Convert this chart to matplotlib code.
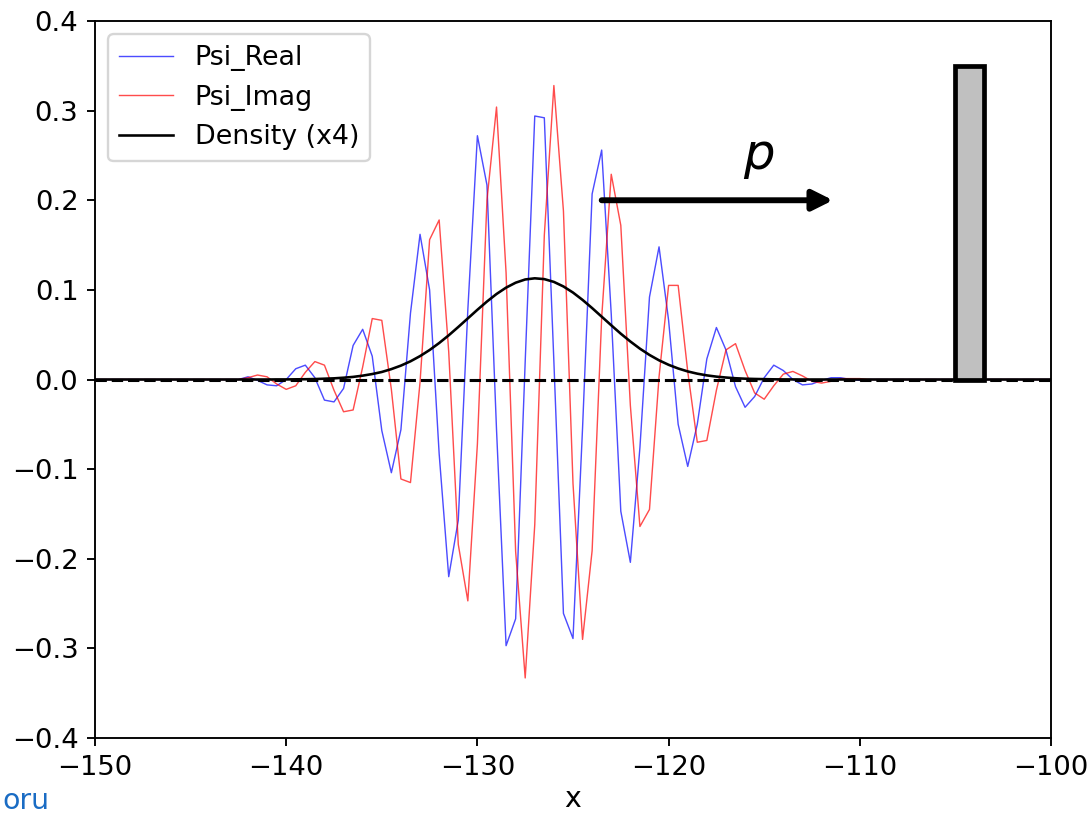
import numpy as np
import matplotlib.pyplot as plt

# grid of the simulation, data given from x = -142 to -110 (outside is zero)
x_lo, x_hi, dx = -150.0, -100.0, 0.5
data_start = -142.0

psi_real = [0.003, -0.001, -0.006, -0.007, 0.000, 0.012, 0.016, 0.002, -0.023, -0.025,
            -0.010, 0.038, 0.056, 0.026, -0.057, -0.104, -0.056, 0.074, 0.162, 0.100,
            -0.083, -0.220, -0.157, 0.078, 0.272, 0.217, -0.056, -0.297, -0.267, 0.020,
            0.294, 0.292, 0.020, -0.261, -0.289, -0.054, 0.207, 0.256, 0.073, -0.147,
            -0.204, -0.076, 0.092, 0.148, 0.066, -0.050, -0.097, -0.050, 0.023, 0.058,
            0.033, -0.008, -0.031, -0.019, 0.002, 0.016, 0.010, 0.000, -0.006, -0.005,
            -0.001, 0.002, 0.002, 0.000, -0.001]
psi_imag = [0.002, 0.005, 0.003, -0.005, -0.011, -0.007, 0.008, 0.020, 0.016, -0.012,
            -0.036, -0.034, 0.014, 0.068, 0.066, -0.011, -0.111, -0.115, -0.003, 0.156,
            0.178, 0.031, -0.184, -0.247, -0.072, 0.200, 0.304, 0.119, -0.192, -0.333,
            -0.162, 0.161, 0.328, 0.188, -0.116, -0.290, -0.191, 0.069, 0.229, 0.172,
            -0.029, -0.164, -0.145, 0.003, 0.105, 0.105, 0.009, -0.070, -0.068, -0.012,
            0.033, 0.040, 0.010, -0.015, -0.022, -0.007, 0.006, 0.009, 0.004, -0.002,
            -0.004, -0.002, 0.001, 0.001, 0.001]
density = [0.0000, 0.0000, 0.0000, 0.0001, 0.0001, 0.0002, 0.0003, 0.0005, 0.0009, 0.0013,
           0.0020, 0.0029, 0.0043, 0.0061, 0.0084, 0.0116, 0.0155, 0.0203, 0.0261, 0.0329,
           0.0407, 0.0493, 0.0586, 0.0682, 0.0778, 0.0870, 0.0954, 0.1025, 0.1080, 0.1116,
           0.1129, 0.1120, 0.1089, 0.1038, 0.0970, 0.0888, 0.0797, 0.0701, 0.0605, 0.0511,
           0.0424, 0.0344, 0.0274, 0.0214, 0.0164, 0.0123, 0.0090, 0.0065, 0.0046, 0.0032,
           0.0022, 0.0014, 0.0009, 0.0006, 0.0004, 0.0002, 0.0001, 0.0001, 0.0000, 0.0000,
           0.0000, 0.0000, 0.0000, 0.0000, 0.0000]

# potential barrier and momentum arrow
barrier_x, barrier_w, barrier_h = -105.0, 1.5, 0.35
arrow_from, arrow_to = (-123.5, 0.2), (-111.4, 0.2)
p_pos = (-115.3, 0.25)


def pad(vals):
    n_left = int(round((data_start - x_lo) / dx))
    n_total = int(round((x_hi - x_lo) / dx)) + 1
    return np.concatenate([np.zeros(n_left), vals, np.zeros(n_total - n_left - len(vals))])


x = np.arange(x_lo, x_hi + dx / 2, dx)

fig = plt.figure(figsize=(1087 / 170, 815 / 170), dpi=170)
ax = fig.add_axes([95 / 1087, 1 - 738 / 815, (1051 - 95) / 1087, (738 - 21) / 815])

ax.plot(x, pad(psi_real), color='blue', lw=0.6, alpha=0.7, label='Psi_Real')
ax.plot(x, pad(psi_imag), color='red', lw=0.6, alpha=0.7, label='Psi_Imag')
ax.plot(x, pad(density), color='black', lw=1.1, label='Density (x4)')
ax.axhline(0, color='black', ls='--', lw=1.3)

ax.bar(barrier_x, barrier_h, width=barrier_w, align='edge', color='silver',
       edgecolor='black', linewidth=2, zorder=3)
ax.annotate('', xy=arrow_to, xytext=arrow_from,
            arrowprops=dict(arrowstyle='-|>', color='black', lw=2.5,
                            mutation_scale=18, shrinkA=0, shrinkB=0))
ax.text(p_pos[0], p_pos[1], 'p', fontsize=21, style='italic', ha='center', va='center')

ax.set_xlim(x_lo, x_hi)
ax.set_ylim(-0.4, 0.4)
ax.tick_params(labelsize=11.6)
ax.set_xlabel('x', fontsize=12, labelpad=2)
ax.legend(loc='upper left', fontsize=11.4)

fig.text(0.002, 0.0, 'oru', color='#1a6cc4', fontsize=12, va='bottom')

fig.savefig('out.png', dpi=170)
